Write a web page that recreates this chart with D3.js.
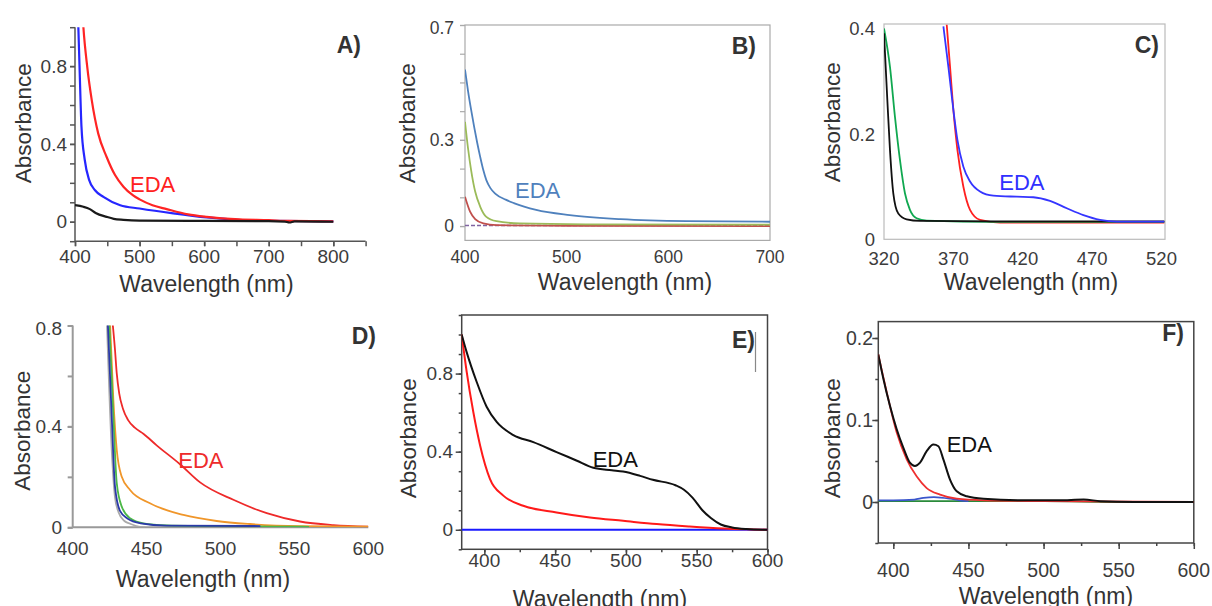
<!DOCTYPE html>
<html><head><meta charset="utf-8">
<script src="https://cdn.jsdelivr.net/npm/d3@7"></script>
<style>body{margin:0;background:#fff}svg{display:block}</style>
</head><body><svg id="c" width="1212" height="606"></svg>
<script>
// ---------- Panel A ----------
const aBlueWl  = [405,407,410,415,422,431,444,470,500,552,604,650,700,800];
const aBlueAbs = [1.02,0.8,0.49,0.32,0.214,0.162,0.128,0.085,0.068,0.043,0.022,0.01,0.005,0.002];
const aRedWl   = [412,413,419,426,436,449,462,475,490,500,520,542,575,604,655,700,730,800];
const aRedAbs  = [1.05,1.0,0.795,0.624,0.453,0.333,0.24,0.18,0.135,0.115,0.085,0.065,0.038,0.025,0.012,0.008,0.004,0.002];
const aBlackWl = [400,413,423,432,449,460,475,500,600,700,725,732,740,800];
const aBlackAbs= [0.085,0.077,0.065,0.045,0.025,0.015,0.01,0.006,0.004,0.003,0.001,-0.004,0.002,0.0];
const aXTicks = [400,500,600,700,800];
const aYTicks = [0,0.4,0.8];
// ---------- Panel B ----------
const bBlueWl  = [400,403,406,409,412,415,418,421,425,430,440,448,470,503,553,618,700];
const bBlueAbs = [0.545,0.47,0.405,0.345,0.29,0.24,0.195,0.16,0.132,0.112,0.092,0.08,0.056,0.038,0.024,0.017,0.015];
const bGreenWl = [400,403,406,410,415,421,431,454,519,700];
const bGreenAbs= [0.363,0.27,0.195,0.12,0.067,0.032,0.017,0.009,0.006,0.005];
const bRedWl   = [400,405,410,418,431,500,700];
const bRedAbs  = [0.102,0.05,0.024,0.009,0.003,0.001,0.0];
const bPurpleWl  = [400,500,600,700];
const bPurpleAbs = [0.002,0.002,0.002,0.002];
const bXTicks = [400,500,600,700];
const bYTicks = [0,0.3,0.7];
// ---------- Panel C ----------
const cBlackWl = [320,322.4,324.3,326.7,330.3,336.3,346,400,460,522];
const cBlackAbs= [0.392,0.265,0.17,0.0875,0.049,0.038,0.035,0.034,0.034,0.034];
const cGreenWl = [320,324.3,327.9,331.5,335.1,338.7,343.5,350.8,400,522];
const cGreenAbs= [0.401,0.328,0.233,0.151,0.0875,0.056,0.04,0.0355,0.033,0.033];
const cRedWl   = [365.2,367.6,370,372.9,377.2,382,389.2,403.6,460,522];
const cRedAbs  = [0.408,0.328,0.246,0.17,0.1,0.056,0.037,0.032,0.032,0.032];
const cBlueWl  = [362.8,366.4,370,372.9,377.2,382,389.2,398.8,415.6,427.6,439.6,451.7,463.7,475.7,487.7,522];
const cBlueAbs = [0.405,0.328,0.246,0.189,0.138,0.11,0.091,0.083,0.081,0.08,0.073,0.059,0.046,0.037,0.0336,0.0336];
const cXTicks = [320,370,420,470,520];
const cYTicks = [0,0.2,0.4];
// ---------- Panel D ----------
const dRedWl   = [427.1,428.6,429.8,431.5,434,437.5,442,448,456.8,472.6,486.2,508.7,531.3,553.8,576.4,600];
const dRedAbs  = [0.804,0.705,0.61,0.53,0.47,0.425,0.395,0.37,0.325,0.25,0.178,0.109,0.056,0.023,0.009,0.003];
const dOrangeWl  = [425.3,427.5,429.8,433.2,438.8,452.3,474.9,497.4,520,553.8,600];
const dOrangeAbs = [0.804,0.506,0.307,0.2,0.148,0.095,0.049,0.025,0.013,0.005,0.003];
const dGreenWl = [424.8,427.5,429.8,433.2,438.8,447.8,463.6,508.7,560];
const dGreenAbs= [0.804,0.44,0.175,0.082,0.036,0.016,0.008,0.004,0.002];
const dBlueWl  = [423.8,426.4,428.6,432,437,446,463.6,527];
const dBlueAbs = [0.804,0.44,0.162,0.065,0.035,0.016,0.007,0.005];
const dGrayWl  = [423.2,426.4,428.6,431,435,438.8,443,449];
const dGrayAbs = [0.804,0.307,0.12,0.06,0.025,0.014,0.005,0.0];
const dXTicks = [400,450,500,550,600];
const dYTicks = [0,0.4,0.8];
// ---------- Panel E ----------
const eBlackWl = [384,387.5,394.6,401.6,408.7,420.5,434.6,451,465,477,490,498,510,519,535,541,547,554,560,567,575,585,600];
const eBlackAbs= [1.0,0.91,0.757,0.63,0.552,0.485,0.449,0.398,0.355,0.318,0.305,0.298,0.276,0.256,0.228,0.205,0.165,0.1,0.06,0.027,0.012,0.004,0.0];
const eRedWl   = [384,387.5,392.2,397,404,413.4,427.5,451,474.6,498,521.7,545,569,590,600];
const eRedAbs  = [1.0,0.81,0.603,0.432,0.26,0.175,0.123,0.089,0.063,0.046,0.029,0.017,0.007,0.002,0.0];
const eBlueWl  = [384,450,520,600];
const eBlueAbs = [0.0,0.0,0.0,0.0];
const eXTicks = [400,450,500,550,600];
const eYTicks = [0,0.4,0.8];
// ---------- Panel F ----------
const fBlackWl = [390,393.3,397.8,402.2,406.7,411,414.4,417.8,422.2,426.7,430,433.3,437.8,442.2,448.9,460,493,510,526.7,537.8,560,600];
const fBlackAbs= [0.18,0.151,0.117,0.089,0.066,0.048,0.044,0.048,0.062,0.07,0.068,0.052,0.027,0.013,0.007,0.004,0.002,0.002,0.003,0.001,0.0,0.0];
const fRedWl   = [390,395.6,402.2,408.9,415.6,422.2,431.1,442.2,460,500,600];
const fRedAbs  = [0.18,0.134,0.085,0.052,0.031,0.017,0.009,0.004,0.002,0.001,0.0];
const fBlueWl  = [390,400,414,420,427,437.8,444,450];
const fBlueAbs = [0.002,0.002,0.003,0.005,0.006,0.004,0.002,0.001];
const fGreenWl = [390,420,450,500,550,600];
const fGreenAbs= [0.001,0.001,0.001,0.001,0.0,0.0];
const fXTicks = [400,450,500,550,600];
const fYTicks = [0,0.1,0.2];

const xTitle = "Wavelength (nm)";
const yTitle = "Absorbance";
const annot = "EDA";

const FONT = '"Liberation Sans", Arial, Helvetica, sans-serif';
const svg = d3.select("#c");
const fmt = v => v === 0 ? "0" : d3.format(".1f")(v);
const zip = (a, b) => a.map((v, i) => [v, b[i]]);

const panels = [
  { id:"A", xDomain:[400,850], xRange:[75,365.6], yDomain:[-0.1,1.0], yRange:[241.2,27.2],
    axisColor:"#555", axisW:1.5, box:false,
    xMinor:d3.range(400,851,50), yMinor:d3.range(-0.1,1.001,0.1), xTickLen:5, yTickLen:5, minorLen:5,
    xTicks:aXTicks, yTicks:aYTicks, tickFs:19, xLabBase:263, yLabRight:67,
    title:[206.5,292], ytitle:[23.3,123.3], panelLab:[361,53], edaPos:[130,191.7], edaColor:"#ff2020",
    series:[{wl:aBlueWl,abs:aBlueAbs,c:"#2626ff",w:2.2},{wl:aRedWl,abs:aRedAbs,c:"#ff2424",w:2.2},{wl:aBlackWl,abs:aBlackAbs,c:"#1a1a1a",w:2.2}] },
  { id:"B", xDomain:[400,700], xRange:[465,770], yDomain:[-0.05,0.7], yRange:[240.4,25],
    axisColor:"#aaa", axisW:1.2, box:true,
    xMinor:[], yMinor:d3.range(0,0.701,0.1), xTickLen:0, yTickLen:5, minorLen:5,
    xTicks:bXTicks, yTicks:bYTicks, tickFs:17.5, xLabBase:263, yLabRight:454,
    title:[625,290], ytitle:[406.7,123.3], panelLab:[756,54], edaPos:[515,198.3], edaColor:"#4f81bd",
    series:[{wl:bPurpleWl,abs:bPurpleAbs,c:"#8064a2",w:1.5,dash:"4,2"},{wl:bRedWl,abs:bRedAbs,c:"#c0504d",w:1.8},{wl:bGreenWl,abs:bGreenAbs,c:"#9bbb59",w:1.8},{wl:bBlueWl,abs:bBlueAbs,c:"#4f81bd",w:1.8}] },
  { id:"C", xDomain:[320,522.5], xRange:[884,1165], yDomain:[0,0.4095], yRange:[239.3,24],
    axisColor:"#bbb", axisW:1.2, box:true,
    xMinor:[], yMinor:[], xTickLen:0, yTickLen:0, minorLen:0,
    xTicks:cXTicks, yTicks:cYTicks, tickFs:18.5, xLabBase:265, yLabRight:875,
    title:[1031,290], ytitle:[831.7,122.3], panelLab:[1159,52.5], edaPos:[999.3,190], edaColor:"#3030ff",
    series:[{wl:cRedWl,abs:cRedAbs,c:"#ff2020",w:1.8},{wl:cGreenWl,abs:cGreenAbs,c:"#10a850",w:1.8},{wl:cBlackWl,abs:cBlackAbs,c:"#111",w:1.8},{wl:cBlueWl,abs:cBlueAbs,c:"#3535ff",w:1.8}] },
  { id:"D", xDomain:[400,600], xRange:[72.7,368.3], yDomain:[0,0.8], yRange:[527.3,325.5],
    axisColor:"#999", axisW:2, box:false,
    xMinor:[], yMinor:d3.range(0,0.801,0.2), xTickLen:0, yTickLen:5, minorLen:5,
    xTicks:dXTicks, yTicks:dYTicks, tickFs:19, xLabBase:555, yLabRight:62,
    title:[203,586.7], ytitle:[21.7,430.7], panelLab:[376,344], edaPos:[178.3,468.3], edaColor:"#ee2b2b",
    series:[{wl:dRedWl,abs:dRedAbs,c:"#ee2a2a",w:1.8},{wl:dOrangeWl,abs:dOrangeAbs,c:"#f0962a",w:1.8},{wl:dGrayWl,abs:dGrayAbs,c:"#aaaaaa",w:1.8},{wl:dGreenWl,abs:dGreenAbs,c:"#4cb848",w:1.8},{wl:dBlueWl,abs:dBlueAbs,c:"#2b3aa8",w:1.8}] },
  { id:"E", xDomain:[384,600], xRange:[461.7,767.5], yDomain:[-0.1,1.1], yRange:[549.3,315],
    axisColor:"#444", axisW:1.5, box:true,
    xMinor:d3.range(400,601,25), yMinor:d3.range(-0.1,1.101,0.1), xTickLen:6, yTickLen:6, minorLen:3,
    xTicks:eXTicks, yTicks:eYTicks, tickFs:19, xLabBase:566.7, yLabRight:453,
    title:[600,607], ytitle:[408.3,438.3], panelLab:[755,347.5], edaPos:[592.7,466.7], edaColor:"#111",
    series:[{wl:eBlueWl,abs:eBlueAbs,c:"#1a1aff",w:2},{wl:eRedWl,abs:eRedAbs,c:"#ff1a1a",w:2},{wl:eBlackWl,abs:eBlackAbs,c:"#111",w:2}] },
  { id:"F", xDomain:[390,600], xRange:[878.3,1193.8], yDomain:[-0.05,0.22], yRange:[543,321.6],
    axisColor:"#444", axisW:1.5, box:true,
    xMinor:d3.range(400,601,25), yMinor:d3.range(-0.05,0.2001,0.05), xTickLen:6, yTickLen:6, minorLen:3,
    xTicks:fXTicks, yTicks:fYTicks, tickFs:19.5, xLabBase:577, yLabRight:873,
    title:[1046,604], ytitle:[831.7,438.3], panelLab:[1184,341], edaPos:[946.7,451.7], edaColor:"#111",
    series:[{wl:fGreenWl,abs:fGreenAbs,c:"#2a8a3a",w:1.8},{wl:fBlueWl,abs:fBlueAbs,c:"#3a55cc",w:1.8},{wl:fRedWl,abs:fRedAbs,c:"#ee3030",w:1.8},{wl:fBlackWl,abs:fBlackAbs,c:"#111",w:2}] }
];

panels.forEach(p => {
  const x = d3.scaleLinear().domain(p.xDomain).range(p.xRange);
  const y = d3.scaleLinear().domain(p.yDomain).range(p.yRange);
  const g = svg.append("g");
  const x0 = p.xRange[0], x1 = p.xRange[1], yb = p.yRange[0], yt = p.yRange[1];
  g.append("clipPath").attr("id", "clip" + p.id).append("rect")
    .attr("x", x0).attr("y", yt).attr("width", x1 - x0).attr("height", yb - yt);

  const tickGroup = (axis, tr) => {
    const ag = g.append("g").attr("transform", tr).call(axis);
    ag.select(".domain").remove();
    ag.selectAll("line").attr("stroke", p.axisColor).attr("stroke-width", p.axisW);
    ag.selectAll("text").remove();
  };
  if (p.yMinor.length) {
    tickGroup(d3.axisLeft(y).tickValues(p.yMinor).tickSize(p.minorLen).tickFormat(""), `translate(${x0},0)`);
    tickGroup(d3.axisLeft(y).tickValues(p.yTicks).tickSize(p.yTickLen).tickFormat(""), `translate(${x0},0)`);
  }
  if (p.xMinor.length) {
    tickGroup(d3.axisBottom(x).tickValues(p.xMinor).tickSize(p.minorLen).tickFormat(""), `translate(0,${yb})`);
    tickGroup(d3.axisBottom(x).tickValues(p.xTicks.filter(v => v <= p.xDomain[1])).tickSize(p.xTickLen).tickFormat(""), `translate(0,${yb})`);
  }

  if (p.box) {
    g.append("rect").attr("x", x0).attr("y", yt).attr("width", x1 - x0).attr("height", yb - yt)
      .attr("fill", "none").attr("stroke", p.axisColor).attr("stroke-width", p.axisW);
  } else {
    g.append("line").attr("x1", x0).attr("x2", x0).attr("y1", yt).attr("y2", yb)
      .attr("stroke", p.axisColor).attr("stroke-width", p.axisW);
    g.append("line").attr("x1", x0).attr("x2", x1).attr("y1", yb).attr("y2", yb)
      .attr("stroke", p.axisColor).attr("stroke-width", p.axisW);
  }

  const line = d3.line().x(d => x(d[0])).y(d => y(d[1])).curve(d3.curveMonotoneX);
  const lg = g.append("g").attr("clip-path", `url(#clip${p.id})`);
  p.series.forEach(s => {
    lg.append("path").datum(zip(s.wl, s.abs)).attr("d", line)
      .attr("fill", "none").attr("stroke", s.c).attr("stroke-width", s.w)
      .attr("stroke-linejoin", "round").attr("stroke-dasharray", s.dash || null);
  });

  g.selectAll(".xl").data(p.xTicks).join("text")
    .attr("x", d => x(d)).attr("y", p.xLabBase).attr("text-anchor", "middle")
    .attr("font-family", FONT).attr("font-size", p.tickFs).attr("fill", "#3c3c3c").text(d => d);
  g.selectAll(".yl").data(p.yTicks).join("text")
    .attr("x", p.yLabRight).attr("y", d => Math.max(y(d), yt + 3)).attr("dy", "0.35em").attr("text-anchor", "end")
    .attr("font-family", FONT).attr("font-size", p.tickFs).attr("fill", "#3c3c3c").text(fmt);

  g.append("text").attr("x", p.title[0]).attr("y", p.title[1]).attr("text-anchor", "middle")
    .attr("font-family", FONT).attr("font-size", 23).attr("fill", "#333").text(xTitle);
  g.append("text").attr("transform", `translate(${p.ytitle[0]},${p.ytitle[1]}) rotate(-90)`)
    .attr("text-anchor", "middle").attr("dy", "0.35em")
    .attr("font-family", FONT).attr("font-size", 22.5).attr("fill", "#333").text(yTitle);
  g.append("text").attr("x", p.panelLab[0]).attr("y", p.panelLab[1]).attr("text-anchor", "end")
    .attr("font-family", FONT).attr("font-size", 23).attr("font-weight", "bold").attr("fill", "#333").text(p.id + ")");
  g.append("text").attr("x", p.edaPos[0]).attr("y", p.edaPos[1])
    .attr("font-family", FONT).attr("font-size", 22).attr("fill", p.edaColor).text(annot);

  // stray vertical mark visible beside the E) label in the source figure
  if (p.id === "E") {
    g.append("line").attr("x1", 755.5).attr("x2", 755.5).attr("y1", 332).attr("y2", 372)
      .attr("stroke", "#888").attr("stroke-width", 1.2);
  }
});
</script></body></html>
